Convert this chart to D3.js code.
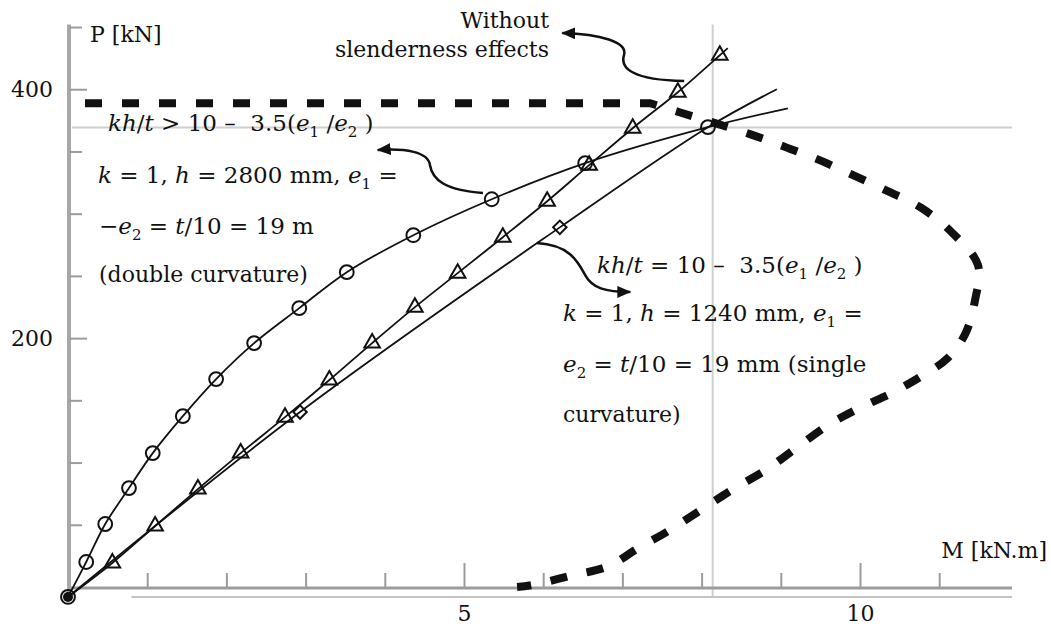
<!DOCTYPE html>
<html><head><meta charset="utf-8">
<script src="https://cdn.jsdelivr.net/npm/d3@7"></script>
<style>
html,body{margin:0;padding:0;background:#fff;}
svg{display:block;font-family:"DejaVu Serif",serif;}
text{white-space:pre;}
</style></head><body>
<svg id="chart" width="1051" height="629"></svg>
<script>
// ---- data (M in kN.m, P in kN) ----
// double curvature (circles)
const M_circ = [0, 0.23, 0.47, 0.77, 1.07, 1.45, 1.87, 2.35, 2.92, 3.52, 4.36, 5.35, 6.53, 8.08, 9.09];
const P_circ = [-8, 20.1, 50.6, 79.5, 107.6, 137.3, 167.1, 196, 224.1, 253, 282.7, 311.6, 340.6, 369.5, 384.7];
const circMarked = [true,true,true,true,true,true,true,true,true,true,true,true,true,true,false];
// without slenderness effects (triangles)
const M_tri = [0, 0.56, 1.10, 1.64, 2.18, 2.74, 3.30, 3.84, 4.38, 4.92, 5.49, 6.05, 6.58, 7.13, 7.70, 8.23, 8.33];
const P_tri = [-8, 19.3, 49, 78.7, 107.6, 136.5, 166.3, 196, 224.9, 252.2, 281.1, 310, 339, 368.7, 397.6, 427.3, 433];
const triMarked = [false,true,true,true,true,true,true,true,true,true,true,true,true,true,true,true,false];
// single curvature (diamonds)
const M_dia = [0, 2.93, 6.21, 8.08, 8.95];
const P_dia = [-8, 140.6, 289, 369.5, 400];
const diaMarked = [false, true, true, false, false];
// interaction diagram (dashed)
const M_int = [0, 7.35, 7.71, 8.61, 9.12, 9.52, 9.94, 10.35, 10.78, 11.17, 11.49, 11.45, 11.33, 11.10, 10.76, 10.42, 10.0, 9.60, 9.18, 8.83, 8.40, 8.01, 7.60, 7.18, 6.83, 6.33, 5.87, 5.67];
const P_int = [388.8, 388.8, 381.7, 363.9, 352, 342.2, 330.1, 318.1, 304.4, 284.3, 258.6, 229.7, 203.5, 183.5, 168.8, 156.5, 144, 130.2, 111, 94.8, 78.7, 62.7, 45.8, 30.5, 16.9, 8.8, 1.6, 0];
// reference lines
const refM = 8.14;
const refP = 369.2;
// ticks
const xMajorTicks = [5, 10];
const xMinorTicks = [1, 2, 3, 4, 6, 7, 8, 9, 11];
const yMajorTicks = [200, 400];
const yMinorTicks = [50, 100, 150, 250, 300, 350, 450];

const svg = d3.select("#chart");
const x = d3.scaleLinear().domain([0, 12]).range([68, 68 + 79.2 * 12]);
const y = d3.scaleLinear().domain([0, 450]).range([587, 587 - 450 * 1.2444]);
const INK = "#111";

// gridlines
svg.append("line").attr("x1", x(refM)).attr("x2", x(refM)).attr("y1", y(452)).attr("y2", y(-8))
  .attr("stroke", "#cfcfcf").attr("stroke-width", 2);
svg.append("line").attr("x1", x(0.05)).attr("x2", x(11.92)).attr("y1", y(refP)).attr("y2", y(refP))
  .attr("stroke", "#cfcfcf").attr("stroke-width", 2);

// axis lines
svg.append("line").attr("x1", x(0.8)).attr("x2", x(11.92)).attr("y1", y(-8)).attr("y2", y(-8))
  .attr("stroke", "#c4c4c4").attr("stroke-width", 2);
svg.append("line").attr("x1", x(-0.01)).attr("x2", x(11.92)).attr("y1", y(0) + 1).attr("y2", y(0) + 1)
  .attr("stroke", "#9c9c9c").attr("stroke-width", 3);
svg.append("line").attr("x1", x(0) + 1).attr("x2", x(0) + 1).attr("y1", y(452)).attr("y2", y(-8))
  .attr("stroke", "#a8a8a8").attr("stroke-width", 4);

function styleAxis(g) {
  g.select(".domain").remove();
  g.selectAll(".tick line").attr("stroke", "#9c9c9c").attr("stroke-width", 2);
  g.selectAll(".tick text").attr("fill", INK).attr("font-size", 22).attr("font-family", '"DejaVu Serif",serif');
}
svg.append("g").attr("transform", `translate(0,${y(0) + 1})`)
  .call(d3.axisBottom(x).tickValues(xMinorTicks).tickSizeInner(-15).tickSizeOuter(0).tickFormat(""))
  .call(styleAxis);
svg.append("g").attr("transform", `translate(0,${y(0) + 1})`)
  .call(d3.axisBottom(x).tickValues(xMajorTicks).tickSizeInner(-25).tickSizeOuter(0).tickPadding(17).tickFormat(d3.format("d")))
  .call(styleAxis);
svg.append("g").attr("transform", `translate(${x(0) + 1},0)`)
  .call(d3.axisLeft(y).tickValues(yMinorTicks).tickSizeInner(-13).tickSizeOuter(0).tickFormat(""))
  .call(styleAxis);
svg.append("g").attr("transform", `translate(${x(0) + 1},0)`)
  .call(d3.axisLeft(y).tickValues(yMajorTicks).tickSizeInner(-18).tickSizeOuter(0).tickPadding(16).tickFormat(d3.format("d")))
  .call(styleAxis);

// axis titles
svg.append("text").attr("x", 90).attr("y", 42).attr("font-size", 22).attr("fill", INK).text("P [kN]");
svg.append("text").attr("x", 1047).attr("y", 558).attr("font-size", 22).attr("fill", INK)
  .attr("text-anchor", "end").text("M [kN.m]");

// dashed interaction curve: straight cap, then smooth curve
const intPts = M_int.map((m, i) => [m, P_int[i]]);
const curvePart = d3.line().x(d => x(d[0])).y(d => y(d[1])).curve(d3.curveCatmullRom.alpha(0.5))(intPts.slice(1));
const intPath = `M${x(intPts[0][0])},${y(intPts[0][1])}L` + curvePart.slice(1);
svg.append("path")
  .attr("d", intPath)
  .attr("fill", "none").attr("stroke", INK).attr("stroke-width", 8)
  .attr("stroke-dasharray", "17,20").attr("stroke-dashoffset", 20);

// series
const lineGen = d3.line().x(d => x(d[0])).y(d => y(d[1])).curve(d3.curveCatmullRom.alpha(0.5));
function series(Ms, Ps, marked, sym, size, rot) {
  const pts = Ms.map((m, i) => [m, Ps[i]]);
  svg.append("path").attr("d", lineGen(pts)).attr("fill", "none")
    .attr("stroke", INK).attr("stroke-width", 1.8);
  const s = d3.symbol().type(sym).size(size);
  svg.append("g").selectAll("path").data(pts.filter((d, i) => marked[i])).join("path")
    .attr("d", s)
    .attr("transform", d => `translate(${x(d[0])},${y(d[1])}) rotate(${rot})`)
    .attr("fill", "none").attr("stroke", INK).attr("stroke-width", 2);
}
series(M_tri, P_tri, triMarked, d3.symbolTriangle, 105, 0);
series(M_dia, P_dia, diaMarked, d3.symbolSquare, 90, 45);
series(M_circ, P_circ, circMarked, d3.symbolCircle, 150, 0);
// origin dot
svg.append("circle").attr("cx", x(M_circ[0])).attr("cy", y(P_circ[0])).attr("r", 5).attr("fill", INK);

// arrow marker
const defs = svg.append("defs");
defs.append("marker").attr("id", "ah").attr("viewBox", "0 0 14 12").attr("refX", 13).attr("refY", 6)
  .attr("markerWidth", 14).attr("markerHeight", 12).attr("markerUnits", "userSpaceOnUse").attr("orient", "auto")
  .append("path").attr("d", "M0,0 L14,6 L0,12 z").attr("fill", INK);

// annotation arrows (data coordinates)
const arrows = [
  [[7.78, 406.6], [7.12, 407.4], [6.97, 417.1], [7.02, 427.5], [7.07, 438], [6.72, 444.4], [6.24, 445.2]],
  [[5.24, 316.6], [4.76, 319], [4.60, 327.1], [4.57, 339.1], [4.55, 349.6], [4.26, 352.8], [3.91, 351.2]],
  [[5.92, 276.4], [6.34, 274.8], [6.44, 261.2], [6.53, 250.7], [6.62, 240.3], [6.78, 237.1], [7.10, 237.1]]
];
arrows.forEach(a => {
  const p = a.map(d => [x(d[0]), y(d[1])]);
  const d = `M${p[0]}C${p[1]} ${p[2]} ${p[3]}C${p[4]} ${p[5]} ${p[6]}`;
  svg.append("path").attr("d", d).attr("fill", "none").attr("stroke", INK)
    .attr("stroke-width", 2.5).attr("marker-end", "url(#ah)");
});

// annotation text
function rich(xp, yp, segs, fs) {
  const t = svg.append("text").attr("x", xp).attr("y", yp).attr("font-size", fs).attr("fill", INK);
  let shifted = false;
  segs.forEach(([s, st]) => {
    const ts = t.append("tspan").text(s);
    if (st === "i") ts.attr("font-style", "italic");
    if (st === "sub") { ts.attr("font-size", 15).attr("dy", 6); shifted = true; }
    else if (shifted) { ts.attr("dy", -6); shifted = false; }
  });
  return t;
}
svg.append("text").attr("x", 549).attr("y", 28).attr("font-size", 22).attr("fill", INK).attr("text-anchor", "end").text("Without");
svg.append("text").attr("x", 549).attr("y", 57).attr("font-size", 22).attr("fill", INK).attr("text-anchor", "end").text("slenderness effects");

rich(108, 131, [["kh", "i"], ["/"], ["t", "i"], [" > 10 –  3.5("], ["e", "i"], ["1", "sub"], [" /"], ["e", "i"], ["2", "sub"], [" )"]], 23);
rich(98, 183, [["k", "i"], [" = 1, "], ["h", "i"], [" = 2800 mm, "], ["e", "i"], ["1", "sub"], [" ="]], 23);
rich(99, 234, [["−"], ["e", "i"], ["2", "sub"], [" = "], ["t", "i"], ["/10 = 19 m"]], 23);
rich(99, 282, [["(double curvature)"]], 22);

rich(597, 273, [["kh", "i"], ["/"], ["t", "i"], [" = 10 –  3.5("], ["e", "i"], ["1", "sub"], [" /"], ["e", "i"], ["2", "sub"], [" )"]], 23);
rich(563, 321, [["k", "i"], [" = 1, "], ["h", "i"], [" = 1240 mm, "], ["e", "i"], ["1", "sub"], [" ="]], 23);
rich(563, 372, [["e", "i"], ["2", "sub"], [" = "], ["t", "i"], ["/10 = 19 mm (single"]], 23);
rich(563, 422, [["curvature)"]], 22);
</script>
</body></html>
